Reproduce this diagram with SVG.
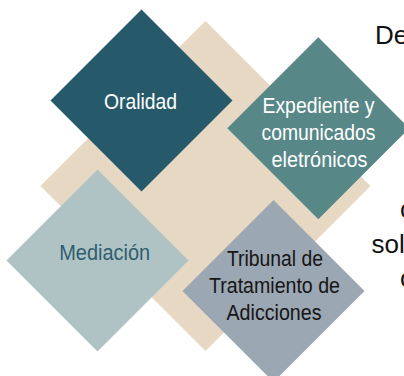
<svg xmlns="http://www.w3.org/2000/svg" width="404" height="376" viewBox="0 0 404 376">
<style>
text{font-family:"Liberation Sans","DejaVu Sans",sans-serif;}
.lbl{font-size:22.5px;text-anchor:middle;}
.side{font-size:26px;fill:#111;}
</style>
<rect width="404" height="376" fill="#ffffff"/>
<g id="fondo"><polygon points="205.5,21 370.5,186 205.5,351 40.5,186" fill="#E6D8C3"/></g>
<g id="connectors"></g>
<g id="oralidad">
<polygon points="141.5,9.5 232.5,100.5 141.5,191.5 50.5,100.5" fill="#265A6A"/>
<text class="lbl" x="140.5" y="108.5" fill="#ffffff" textLength="73" lengthAdjust="spacingAndGlyphs">Oralidad</text>
</g>
<g id="expediente">
<polygon points="318.3,37.3 409.3,128.3 318.3,219.3 227.3,128.3" fill="#578787"/>
<text class="lbl" fill="#ffffff"><tspan x="318.5" y="113" textLength="112" lengthAdjust="spacingAndGlyphs">Expediente y</tspan></text>
<text class="lbl" fill="#ffffff"><tspan x="318.5" y="140" textLength="114" lengthAdjust="spacingAndGlyphs">comunicados</tspan></text>
<text class="lbl" fill="#ffffff"><tspan x="319.5" y="167" textLength="96" lengthAdjust="spacingAndGlyphs">eletrónicos</tspan></text>
</g>
<g id="mediacion">
<polygon points="97.5,169.5 188.5,260.5 97.5,351.5 6.5,260.5" fill="#AFC3C5"/>
<text class="lbl" x="104.7" y="260" fill="#2F5E6E" textLength="91" lengthAdjust="spacingAndGlyphs">Mediación</text>
</g>
<g id="tribunal">
<polygon points="273.5,200 364.5,291 273.5,382 182.5,291" fill="#9BA7B3"/>
<text class="lbl" fill="#151515"><tspan x="275" y="266" textLength="96" lengthAdjust="spacingAndGlyphs">Tribunal de</tspan></text>
<text class="lbl" fill="#151515"><tspan x="274.5" y="293" textLength="131" lengthAdjust="spacingAndGlyphs">Tratamiento de</tspan></text>
<text class="lbl" fill="#151515"><tspan x="274" y="320" textLength="95" lengthAdjust="spacingAndGlyphs">Adicciones</tspan></text>
</g>
<g id="texto-lateral">
<text class="side" x="375" y="43.5">De</text>
<text class="side" x="400" y="218">c</text>
<text class="side" x="371.5" y="253">sol</text>
<text class="side" x="400" y="287">c</text>
</g>
</svg>
